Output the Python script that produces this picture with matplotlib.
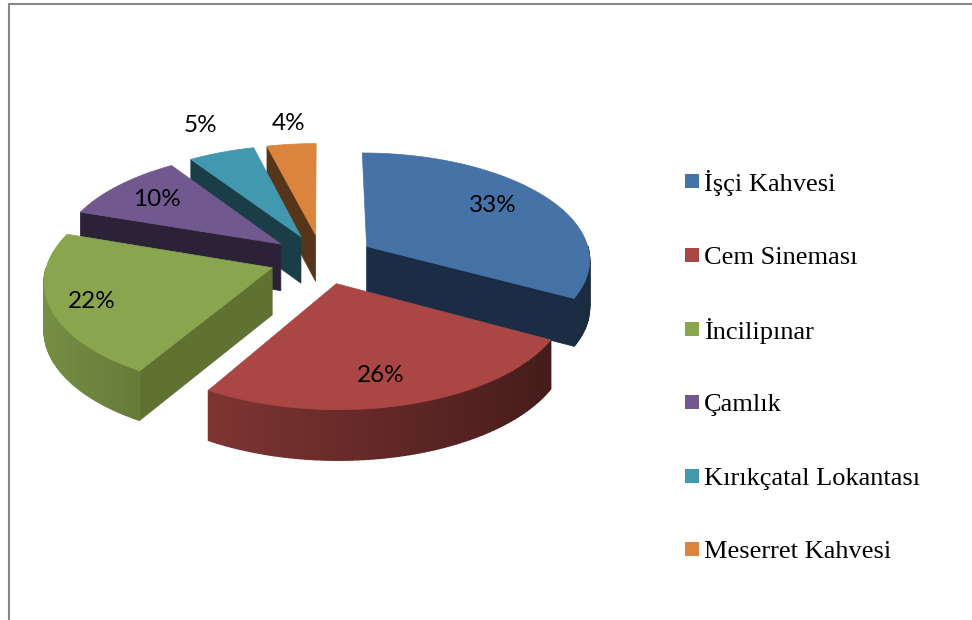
import numpy as np
import matplotlib
matplotlib.use('Agg')
import matplotlib.pyplot as plt
from matplotlib.patches import Polygon, Rectangle

# values of the pie, percent (the picture only shows them rounded)
labels = ['İşçi Kahvesi', 'Cem Sineması', 'İncilipınar', 'Çamlık',
          'Kırıkçatal Lokantası', 'Meserret Kahvesi']
values = [32.9, 25.6, 21.7, 10.4, 5.4, 4.0]
top_colors = ['#4572A7', '#AA4643', '#89A54E', '#71588F', '#4198AF', '#DB843D']
side_colors = ['#1B2D45', '#4A1C1A', '#5F7232', '#2C2238', '#1A3D47', '#57351A']

# fake 3D projection, all in pixels
cx, cy = 322, 259
R = 224
s = 106.3
k = 0.11
explode = 0.235
depth = 47


def project(X, Y, z=0.0):
    w = 1 + k * Y
    return cx + R * X / w, cy - s * Y / w + z * depth / np.sqrt(w)


def shade(color, f):
    c = np.array(matplotlib.colors.to_rgb(color))
    return tuple(np.clip(c * f, 0, 1))


fig = plt.figure(figsize=(9.72, 6.2), dpi=100)
ax = fig.add_axes([0, 0, 1, 1])
ax.set_xlim(0, 972)
ax.set_ylim(620, 0)
ax.axis('off')

# frame, only top and left are in the picture
ax.plot([9, 9, 972], [620, 4, 4], color='#868686', lw=1.5, solid_joinstyle='miter')

total = sum(values)
edges = np.cumsum([0] + values) / total * 2 * np.pi
mids = (edges[:-1] + edges[1:]) / 2

# back slices first
for i in np.argsort(-np.cos(mids)):
    a0, a1 = edges[i], edges[i + 1]
    ex, ey = explode * np.sin(mids[i]), explode * np.cos(mids[i])
    th = np.linspace(a0, a1, 80)
    X = ex + np.sin(th)
    Y = ey + np.cos(th)
    apex_top = project(ex, ey)
    apex_bot = project(ex, ey, 1)
    px, py = project(X, Y)
    bx, by = project(X, Y, 1)

    # radial faces, only those turned to the viewer
    for j, visible in [(0, np.sin(a0) < 0), (-1, np.sin(a1) > 1e-9)]:
        if visible:
            ax.add_patch(Polygon([apex_top, (px[j], py[j]), (bx[j], by[j]), apex_bot],
                                 fc=side_colors[i], ec=side_colors[i], lw=0.5))
    # outer rim, lighter on the left, front part only
    for j in range(len(th) - 1):
        tm = (th[j] + th[j + 1]) / 2
        if np.cos(tm) > 0:
            continue
        col = shade(top_colors[i], 0.62 - 0.25 * np.sin(tm))
        ax.add_patch(Polygon([(px[j], py[j]), (px[j + 1], py[j + 1]),
                              (bx[j + 1], by[j + 1]), (bx[j], by[j])],
                             fc=col, ec=col, lw=1))
    # top
    pts = [apex_top] + list(zip(px, py))
    ax.add_patch(Polygon(pts, fc=top_colors[i], ec=top_colors[i], lw=0.5))

# percent labels
label_xy = [(493, 205), (381, 375), (92, 301), (157, 199), (200, 125), (289, 124)]
for v, (x, y) in zip(values, label_xy):
    ax.text(x, y, f'{v:.0f}%', ha='center', va='center', fontsize=17.5, family='Lato', color='black')

# legend
legend_y = [181, 255, 329, 402, 476, 549]
for lab, col, y in zip(labels, top_colors, legend_y):
    ax.add_patch(Rectangle((685, y - 7), 14, 14, fc=col, ec='none'))
    ax.text(704, y, lab, ha='left', va='center_baseline', fontsize=19,
            family='Liberation Serif', color='black')

fig.savefig('out.png', dpi=100)
